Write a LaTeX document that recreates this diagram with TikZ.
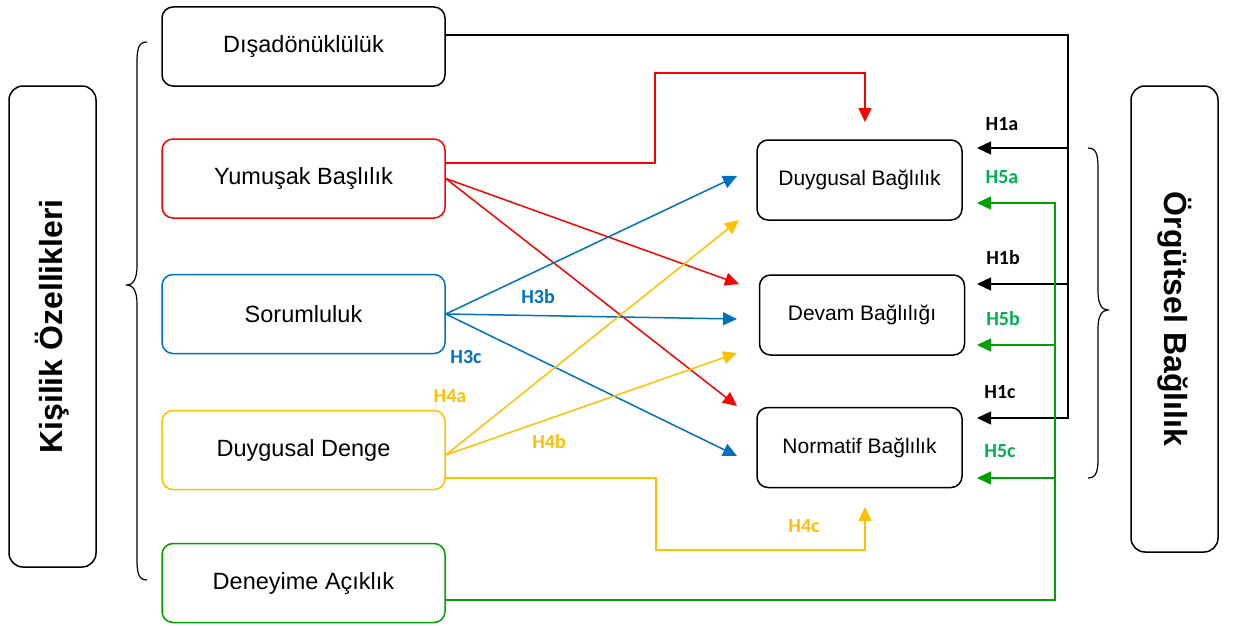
\documentclass[tikz,border=0pt]{standalone}
\usepackage{fontspec}
\setmainfont{Liberation Sans}
\newfontfamily\lblfont{Carlito}
\usetikzlibrary{arrows.meta,calc}
\definecolor{cred}{HTML}{FF0000}
\definecolor{cblue}{HTML}{0070C0}
\definecolor{cyel}{HTML}{FFC000}
\definecolor{cgreen}{HTML}{00A000}
\definecolor{cglbl}{HTML}{00B050}
\begin{document}
\begin{tikzpicture}[x=1pt,y=-1pt,
  box/.style={draw, rounded corners=11pt, line width=1.5pt, inner sep=0pt},
  trait/.style={box, minimum width=283pt, minimum height=79pt, font=\fontsize{23.5}{26}\selectfont},
  outc/.style={box, minimum width=205pt, minimum height=80pt, font=\fontsize{21}{24}\selectfont},
  big/.style={box, rounded corners=14pt, minimum width=87pt, font=\bfseries\fontsize{32}{34}\selectfont},
  conn/.style={line width=1.5pt},
  tip/.style={-{Triangle[length=14pt,width=13pt]}},
  lbl/.style={font=\lblfont\bfseries\fontsize{20}{22}\selectfont, inner sep=0pt}
]
\useasboundingbox (0,0) rectangle (1234,626);

% big side boxes
\node[big, minimum height=481pt] (kis) at (52.5,326.5) {\rotatebox{90}{Kişilik Özellikleri}};
\node[big, minimum height=466pt] (org) at (1174.5,319) {\rotatebox{-90}{Örgütsel Bağlılık}};

% braces
\draw[line width=1.2pt] (147,42) .. controls (139,42) and (137,48) .. (137,62) -- (137,266)
  .. controls (137,279) and (133,285) .. (127,285)
  .. controls (133,285) and (137,291) .. (137,304) -- (137,560)
  .. controls (137,574) and (139,580) .. (147,580);
\draw[line width=1.2pt] (1088,148) .. controls (1096,148) and (1098,154) .. (1098,168) -- (1098,292)
  .. controls (1098,304) and (1102,310) .. (1108,310)
  .. controls (1102,310) and (1098,316) .. (1098,328) -- (1098,458)
  .. controls (1098,472) and (1096,478) .. (1088,478);

% trait boxes
\node[trait] (dis) at (303.5,46.5) {Dışadönüklülük};
\node[trait, draw=cred] (yum) at (303.5,178.5) {Yumuşak Başlılık};
\node[trait, draw=cblue] (sor) at (303.5,314) {Sorumluluk};
\node[trait, draw=cyel] (dd) at (303.5,450) {Duygusal Denge};
\node[trait, draw=cgreen] (den) at (303.5,583) {Deneyime Açıklık};

% outcome boxes
\node[outc] (db) at (859.5,180) {\raisebox{4pt}{Duygusal Bağlılık}};
\node[outc] (dv) at (862,315) {\raisebox{4pt}{Devam Bağlılığı}};
\node[outc] (nb) at (859.5,447.5) {\raisebox{4pt}{Normatif Bağlılık}};

% arrow end coordinates
\coordinate (tR0) at (865,122);
\coordinate (tR1) at (739,284);
\coordinate (tR2) at (737,406);
\coordinate (tB0) at (737,176);
\coordinate (tB1) at (737,319);
\coordinate (tB2) at (737,456);
\coordinate (tY0) at (739,220);
\coordinate (tY1) at (737,353);
\coordinate (tY2) at (865,507);
\coordinate (tK0) at (977,148);
\coordinate (tK1) at (977,284);
\coordinate (tK2) at (977,418);
\coordinate (tG0) at (977,203);
\coordinate (tG1) at (977,345);
\coordinate (tG2) at (977,478);
\coordinate (jK) at (1068,418);
\coordinate (jG) at (1055,203);

% black (extraversion)
\draw[conn, tip] ([yshift=11.5pt]dis.east) -| (jK) -- (tK2);
\draw[conn, tip] (jK |- tK0) -- (tK0);
\draw[conn, tip] (jK |- tK1) -- (tK1);

% green (openness)
\draw[conn, cgreen, tip] ([yshift=-17pt]den.east) -| (jG) -- (tG0);
\draw[conn, cgreen, tip] (jG |- tG1) -- (tG1);
\draw[conn, cgreen, tip] (jG |- tG2) -- (tG2);

% red (agreeableness)
\draw[conn, cred, tip] ([yshift=15.5pt]yum.east) -| (655,73) -| (tR0);
\draw[conn, cred, tip] (yum.east) -- (tR1);
\draw[conn, cred, tip] (yum.east) -- (tR2);

% blue (conscientiousness)
\draw[conn, cblue, tip] (sor.east) -- (tB0);
\draw[conn, cblue, tip] (sor.east) -- (tB1);
\draw[conn, cblue, tip] (sor.east) -- (tB2);

% yellow (emotional stability)
\draw[conn, cyel, tip] ([yshift=-5pt]dd.east) -- (tY0);
\draw[conn, cyel, tip] ([yshift=-5pt]dd.east) -- (tY1);
\draw[conn, cyel, tip] ([yshift=-28pt]dd.east) -| (656,550) -| (tY2);

% labels
\node[lbl] (h1a) at (1002,124) {H1a};
\node[lbl] (h1b) at (1003,258) {H1b};
\node[lbl] (h1c) at (1000,392) {H1c};
\node[lbl, text=cglbl] (h5a) at (1002,177) {H5a};
\node[lbl, text=cglbl] (h5b) at (1003,319) {H5b};
\node[lbl, text=cglbl] (h5c) at (1000,451) {H5c};
\node[lbl, text=cblue] (h3b) at (538,297) {H3b};
\node[lbl, text=cblue] (h3c) at (466,357) {H3c};
\node[lbl, text=cyel] (h4a) at (450,396) {H4a};
\node[lbl, text=cyel] (h4b) at (549,442) {H4b};
\node[lbl, text=cyel] (h4c) at (804,526) {H4c};
\end{tikzpicture}
\end{document}
